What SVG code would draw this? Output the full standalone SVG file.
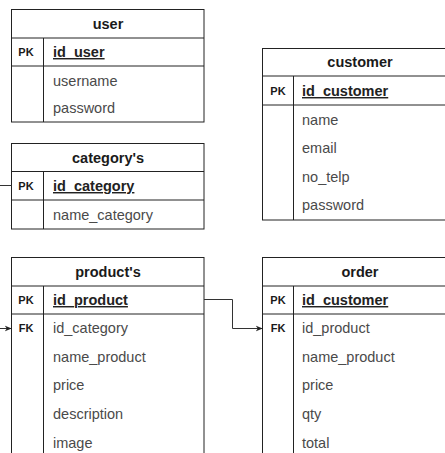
<svg xmlns="http://www.w3.org/2000/svg" width="445" height="453" viewBox="0 0 445 453">
<style>
.box{fill:#fff;stroke:#222;stroke-width:1}
.ln{stroke:#222;stroke-width:1;fill:none}
.hd{font-family:"Liberation Sans",Arial,sans-serif;font-size:14.5px;font-weight:bold;fill:#1a1a1a;text-anchor:middle}
.k{font-family:"Liberation Sans",Arial,sans-serif;font-size:11px;font-weight:bold;fill:#1a1a1a;text-anchor:middle}
.pk{font-family:"Liberation Sans",Arial,sans-serif;font-size:14.5px;font-weight:bold;fill:#222;text-decoration:underline}
.f{font-family:"Liberation Sans",Arial,sans-serif;font-size:14.5px;fill:#4a4a4a}
.c{stroke:#333;stroke-width:1;fill:none}
</style>
<defs>
<marker id="arr" viewBox="0 0 10 10" refX="9" refY="5" markerWidth="7" markerHeight="7" orient="auto" markerUnits="userSpaceOnUse">
<path d="M0,1 L10,5 L0,9 L3,5 Z" fill="#222"/>
</marker>
</defs>

<g id="user">
<rect class="box" x="11.5" y="9.5" width="192.5" height="112.5"/>
<line class="ln" x1="11.5" y1="38" x2="204" y2="38"/>
<line class="ln" x1="11.5" y1="66" x2="204" y2="66"/>
<line class="ln" x1="43.5" y1="38" x2="43.5" y2="122"/>
<text class="hd" x="108" y="29">user</text>
<text class="k" x="26" y="56">PK</text>
<text class="pk" x="53" y="57">id_user</text>
<text class="f" x="53" y="86">username</text>
<text class="f" x="53" y="113">password</text>
</g>

<g id="category">
<rect class="box" x="11.5" y="143.5" width="192.5" height="85.5"/>
<line class="ln" x1="11.5" y1="171.5" x2="204" y2="171.5"/>
<line class="ln" x1="11.5" y1="200" x2="204" y2="200"/>
<line class="ln" x1="43.5" y1="171.5" x2="43.5" y2="229"/>
<text class="hd" x="108" y="163">category's</text>
<text class="k" x="26" y="190">PK</text>
<text class="pk" x="53" y="191">id_category</text>
<text class="f" x="53" y="220">name_category</text>
</g>

<g id="customer">
<rect class="box" x="262.5" y="48.5" width="200" height="171.5"/>
<line class="ln" x1="262.5" y1="76" x2="462" y2="76"/>
<line class="ln" x1="262.5" y1="105" x2="462" y2="105"/>
<line class="ln" x1="293.5" y1="76" x2="293.5" y2="220"/>
<text class="hd" x="360" y="67">customer</text>
<text class="k" x="278" y="95">PK</text>
<text class="pk" x="302" y="96">id_customer</text>
<text class="f" x="302" y="125">name</text>
<text class="f" x="302" y="153">email</text>
<text class="f" x="302" y="182">no_telp</text>
<text class="f" x="302" y="210">password</text>
</g>

<g id="products">
<rect class="box" x="11.5" y="257.5" width="192.5" height="210"/>
<line class="ln" x1="11.5" y1="286" x2="204" y2="286"/>
<line class="ln" x1="11.5" y1="314" x2="204" y2="314"/>
<line class="ln" x1="43.5" y1="286" x2="43.5" y2="460"/>
<text class="hd" x="108" y="277">product's</text>
<text class="k" x="26" y="304">PK</text>
<text class="pk" x="53" y="305">id_product</text>
<text class="k" x="26" y="332">FK</text>
<text class="f" x="53" y="333">id_category</text>
<text class="f" x="53" y="362">name_product</text>
<text class="f" x="53" y="390">price</text>
<text class="f" x="53" y="419">description</text>
<text class="f" x="53" y="448">image</text>
</g>

<g id="order">
<rect class="box" x="262.5" y="257.5" width="200" height="210"/>
<line class="ln" x1="262.5" y1="286" x2="462" y2="286"/>
<line class="ln" x1="262.5" y1="314" x2="462" y2="314"/>
<line class="ln" x1="293.5" y1="286" x2="293.5" y2="460"/>
<text class="hd" x="360" y="277">order</text>
<text class="k" x="278" y="304">PK</text>
<text class="pk" x="302" y="305">id_customer</text>
<text class="k" x="278" y="332">FK</text>
<text class="f" x="302" y="333">id_product</text>
<text class="f" x="302" y="362">name_product</text>
<text class="f" x="302" y="390">price</text>
<text class="f" x="302" y="419">qty</text>
<text class="f" x="302" y="448">total</text>
</g>

<g id="connectors">
<path class="c" d="M0,185.5 L11.5,185.5"/>
<path class="c" d="M0,328.5 L11,328.5" marker-end="url(#arr)"/>
<path class="c" d="M204,299.5 L232.5,299.5 L232.5,328.5 L262,328.5" marker-end="url(#arr)"/>
</g>
</svg>
